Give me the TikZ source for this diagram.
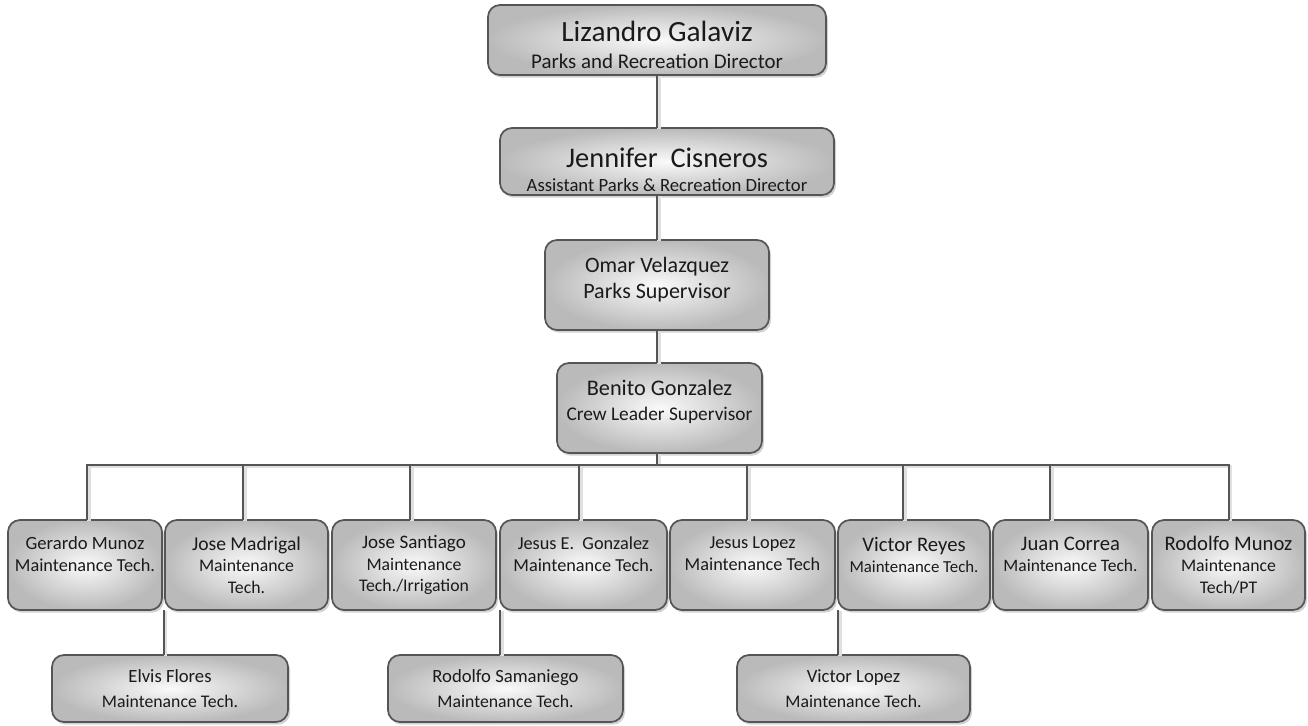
\documentclass[tikz,border=0pt]{standalone}
\usepackage{fontspec}
\setmainfont{Carlito}
\usetikzlibrary{shadows}
\definecolor{edge}{HTML}{555555}
\definecolor{ink}{HTML}{1A1A1A}
\tikzset{
  box/.style={draw=edge, line width=1.3pt, rounded corners=9pt, inner sep=0pt, outer sep=0pt,
    shading=radial, inner color=gray!4, outer color=gray!54, align=center, text=ink,
    drop shadow={shadow xshift=1.5pt, shadow yshift=-2pt, opacity=0.35, fill=gray}},
  conn/.style={draw=edge, line width=1.5pt,
    preaction={draw=black!12, line width=2.5pt, transform canvas={xshift=1.5pt, yshift=-1pt}}},
}
\newcommand\fsz[1]{\fontsize{#1pt}{1.2\dimexpr#1pt\relax}\selectfont}
\newcommand\bx[7]{%
  \pgfmathsetmacro\bw{(#4-#2)*0.75}\pgfmathsetmacro\bh{(#5-#3)*0.75}%
  \node[box, font=\fsz{#6}, minimum width=\bw pt, minimum height=\bh pt] (#1) at ({(#2+#4)/2},{(#3+#5)/2}) {#7};}
\begin{document}
\begin{tikzpicture}[x=0.75pt, y=-0.75pt]
\useasboundingbox (0,0) rectangle (1308,725);
% top chain
\bx{liz}{488}{5}{826}{75}{15.7}{\mbox{}\\[4.2pt]{\fsz{22}Lizandro Galaviz}\\[1.5pt]Parks and Recreation Director}
\bx{jen}{500}{128}{834}{195}{14}{\mbox{}\\[10pt]{\fsz{21.3}Jennifer\ \ Cisneros}\\[1.5pt]Assistant Parks \& Recreation Director}
\bx{omar}{545}{240}{769}{330}{16.5}{Omar Velazquez\\Parks Supervisor\\[-9.3pt]\mbox{}}
\bx{ben}{557}{363}{762}{453}{14.5}{{\fsz{16.7}Benito Gonzalez}\\[1pt]Crew Leader Supervisor\\[-5.4pt]\mbox{}}
% bottom row
\bx{ger}{8}{520}{162}{610}{13.7}{{\fsz{14}Gerardo Munoz}\\Maintenance Tech.\\\mbox{}}
\bx{jmad}{165}{520}{328}{610}{13.3}{{\fsz{14.7}Jose Madrigal}\\Maintenance\\Tech.}
\bx{jsan}{332}{520}{496}{610}{13.3}{{\fsz{14.3}Jose Santiago}\\Maintenance\\Tech./Irrigation}
\bx{jeg}{500}{520}{667}{610}{13.7}{{\fsz{13.7}Jesus E.\ \ Gonzalez}\\Maintenance Tech.\\\mbox{}}
\bx{jlop}{670}{520}{835}{610}{13.7}{{\fsz{13.7}Jesus Lopez}\\Maintenance Tech\\\mbox{}}
\bx{vrey}{838}{520}{990}{610}{12.6}{{\fsz{15.5}Victor Reyes}\\Maintenance Tech.\\\mbox{}}
\bx{jcor}{993}{520}{1148}{610}{13.1}{{\fsz{15.5}Juan Correa}\\Maintenance Tech.\\\mbox{}}
\bx{rmun}{1152}{520}{1305}{610}{13.3}{{\fsz{15.5}Rodolfo Munoz}\\Maintenance\\Tech/PT}
% sub boxes
\bx{elv}{52}{655}{288}{722}{13.3}{{\fsz{14}Elvis Flores}\\[2.5pt]Maintenance Tech.}
\bx{rsam}{388}{655}{623}{722}{13.3}{{\fsz{14}Rodolfo Samaniego}\\[2.5pt]Maintenance Tech.}
\bx{vlop}{737}{655}{970}{722}{13.3}{{\fsz{14}Victor Lopez}\\[2.5pt]Maintenance Tech.}
% connectors
\coordinate (spine) at (657,0);
\coordinate (bus) at (657,465);
\draw[conn] (spine |- liz.south) -- (spine |- jen.north);
\draw[conn] (spine |- jen.south) -- (spine |- omar.north);
\draw[conn] (spine |- omar.south) -- (spine |- ben.north);
\draw[conn] (spine |- ben.south) -- (bus);
\draw[conn] ([xshift=1.5pt]ger.north) |- (bus) -| (rmun.north);
\draw[conn] ([xshift=-2.6pt]jmad.north) -- ([xshift=-2.6pt]jmad.north |- bus);
\draw[conn] ([xshift=-3pt]jsan.north) -- ([xshift=-3pt]jsan.north |- bus);
\draw[conn] ([xshift=-3.4pt]jeg.north) -- ([xshift=-3.4pt]jeg.north |- bus);
\draw[conn] ([xshift=-4.1pt]jlop.north) -- ([xshift=-4.1pt]jlop.north |- bus);
\draw[conn] ([xshift=-8.3pt]vrey.north) -- ([xshift=-8.3pt]vrey.north |- bus);
\draw[conn] ([xshift=-15.4pt]jcor.north) -- ([xshift=-15.4pt]jcor.north |- bus);
\draw[conn] ([xshift=-1pt]jmad.south west) -- ([xshift=-1pt]jmad.south west |- elv.north);
\draw[conn] (jeg.south west) -- (jeg.south west |- rsam.north);
\draw[conn] (vrey.south west) -- (vrey.south west |- vlop.north);
\end{tikzpicture}
\end{document}
